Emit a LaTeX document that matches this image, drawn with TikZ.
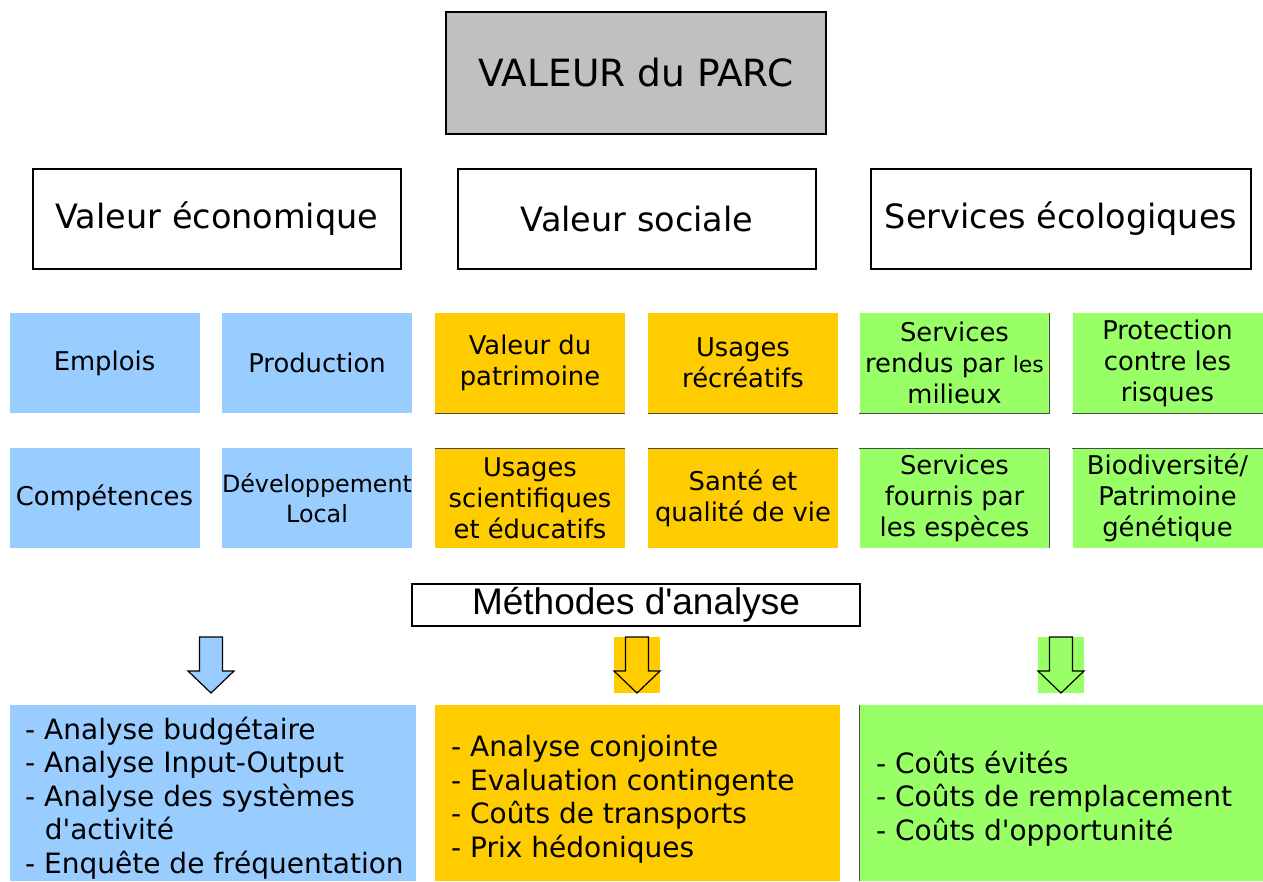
\documentclass[tikz,border=0pt]{standalone}
\usepackage{fontspec}
\setmainfont{DejaVu Sans}
\newfontfamily\verd{DejaVu Sans}
\newfontfamily\arialfont{Liberation Sans}
\definecolor{ecoblue}{HTML}{99CCFF}
\definecolor{socyellow}{HTML}{FFCC00}
\definecolor{ecogreen}{HTML}{99FF66}
\definecolor{titlegray}{HTML}{C0C0C0}
\tikzset{
  titlebox/.style={draw=black, line width=2pt, fill=titlegray, minimum width=380pt, minimum height=122pt, inner sep=0pt, font=\verd\fontsize{37.5}{42}\selectfont},
  catbox/.style={draw=black, line width=1.5pt, fill=white, minimum height=100pt, inner sep=0pt, font=\verd\fontsize{33.5}{38}\selectfont},
  smallbox/.style={minimum width=190pt, minimum height=100pt, inner sep=0pt, align=center, font=\verd\fontsize{25.8}{31}\selectfont},
  methbox/.style={draw=black, line width=1.5pt, fill=white, minimum width=448pt, minimum height=42pt, inner sep=0pt, font=\arialfont\fontsize{37}{40}\selectfont},
  listbox/.style={minimum height=176pt, inner sep=0pt},
  listtext/.style={anchor=base west, align=left, inner sep=0pt, font=\verd\fontsize{28}{33.5}\selectfont},
  blockarrow/.style={draw=black, line width=1.2pt, line join=miter},
  edgeline/.style={draw=black!70, line width=0.6pt}
}
\begin{document}
\begin{tikzpicture}[x=1pt, y=-1pt]
\useasboundingbox (0,0) rectangle (1263,881);
% title
\node[titlebox] (title) at (636,73) {VALEUR du PARC};
% categories
\node[catbox, minimum width=368pt] (eco) at (217,219) {Valeur économique};
\node[catbox, minimum width=358pt] (soc) at (637,219) {Valeur sociale};
\node[catbox, minimum width=380pt] (ser) at (1061,219) {Services écologiques};
% blue boxes
\node[smallbox, fill=ecoblue] (emp) at (104.5,363) {Emplois};
\node[smallbox, fill=ecoblue] (pro) at (317,363) {Production};
\node[smallbox, fill=ecoblue] (com) at (104.5,498) {Compétences};
\node[smallbox, fill=ecoblue, font=\verd\fontsize{23.8}{30}\selectfont] (dev) at (317,498) {Développement\\Local};
% yellow boxes
\node[smallbox, fill=socyellow] (pat) at (530,363) {Valeur du\\patrimoine};
\node[smallbox, fill=socyellow] (rec) at (743,363) {Usages\\récréatifs};
\node[smallbox, fill=socyellow] (sci) at (530,498) {Usages\\scientifiques\\et éducatifs};
\node[smallbox, fill=socyellow] (san) at (743,498) {Santé et\\qualité de vie};
% green boxes
\node[smallbox, fill=ecogreen] (mil) at (954.5,363) {Services\\rendus par {\fontsize{22}{31}\selectfont les}\\milieux};
\node[smallbox, fill=ecogreen] (ris) at (1167.5,363) {Protection\\contre les\\risques};
\node[smallbox, fill=ecogreen] (esp) at (954.5,498) {Services\\fournis par\\les espèces};
\node[smallbox, fill=ecogreen] (bio) at (1167.5,498) {Biodiversité/\\Patrimoine\\génétique};
% thin edges
\draw[edgeline] (pat.south west) -- (pat.south east);
\draw[edgeline] (rec.south west) -- (rec.south east);
\draw[edgeline] (sci.north west) -- (sci.north east);
\draw[edgeline] (san.north west) -- (san.north east);
\draw[edgeline] (mil.north east) -- (mil.south east);
\draw[edgeline] (esp.north east) -- (esp.south east);
\draw[edgeline] (mil.south west) -- (mil.south east);
\draw[edgeline] (ris.south west) -- (ris.south east);
\draw[edgeline] (esp.north west) -- (esp.north east);
\draw[edgeline] (bio.north west) -- (bio.north east);
% methods
\node[methbox] (meth) at (636,605) {Méthodes d'analyse};
% arrows
\fill[socyellow] (614,637) rectangle (660,693);
\fill[ecogreen] (1038,637) rectangle (1084,693);
\draw[blockarrow, fill=ecoblue] (199.5,637) -- (222.5,637) -- (222.5,671) -- (234,671) -- (211,693) -- (188,671) -- (199.5,671) -- cycle;
\draw[blockarrow, fill=socyellow] (625.5,637) -- (648.5,637) -- (648.5,671) -- (660,671) -- (637,693) -- (614,671) -- (625.5,671) -- cycle;
\draw[blockarrow, fill=ecogreen] (1049.5,637) -- (1072.5,637) -- (1072.5,671) -- (1084,671) -- (1061,693) -- (1038,671) -- (1049.5,671) -- cycle;
% list boxes
\node[listbox, fill=ecoblue, minimum width=406pt] (lb) at (213,793) {};
\node[listbox, fill=socyellow, minimum width=405pt] (ly) at (637.5,793) {};
\node[listbox, fill=ecogreen, minimum width=404pt] (lg) at (1061,793) {};
\draw[edgeline] (lg.north west) -- (lg.south west);
\node[listtext] (lbt) at (25,873) {- Analyse budgétaire\\- Analyse Input-Output\\- Analyse des systèmes\\\hspace*{0.7em}d'activité\\- Enquête de fréquentation};
\node[listtext] (lyt) at (451,857) {- Analyse conjointe\\- Evaluation contingente\\- Coûts de transports\\- Prix hédoniques};
\node[listtext] (lgt) at (876,840) {- Coûts évités\\- Coûts de remplacement\\- Coûts d'opportunité};
\end{tikzpicture}
\end{document}
